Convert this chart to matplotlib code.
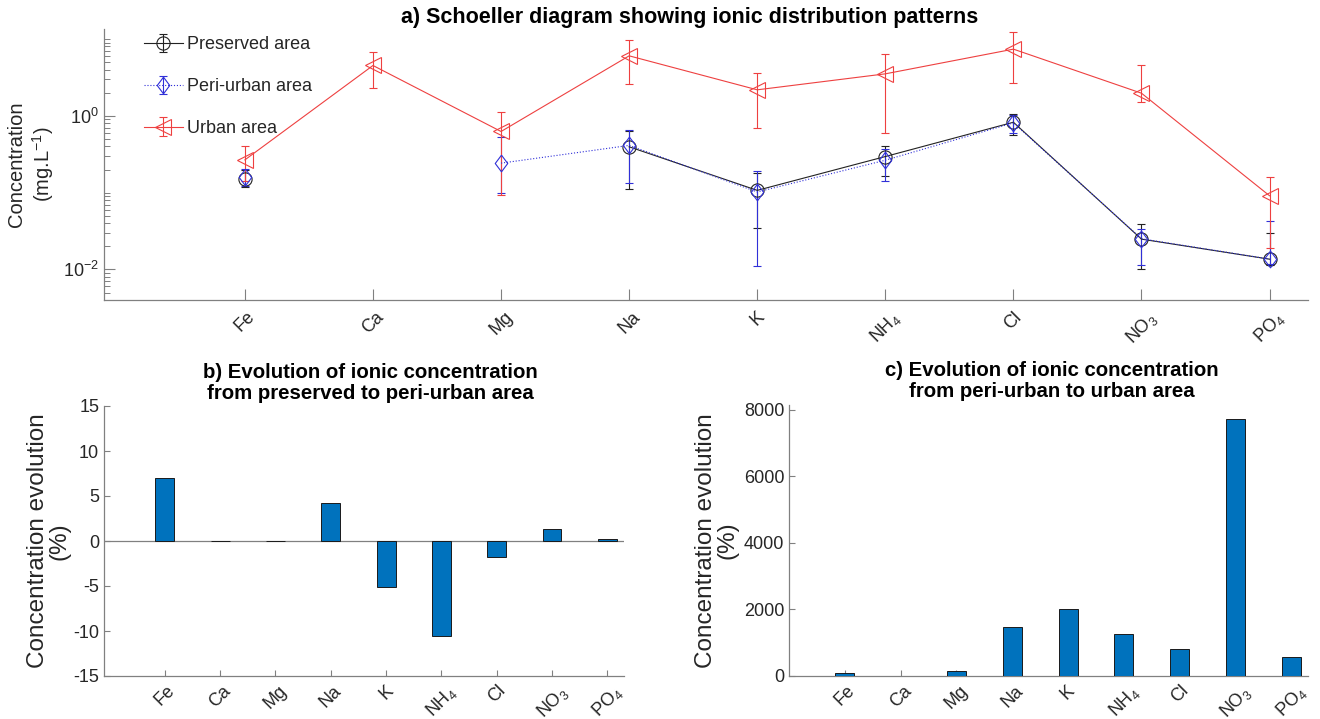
import numpy as np
import matplotlib
matplotlib.use('Agg')
import matplotlib.pyplot as plt
from matplotlib.ticker import FixedLocator, LogLocator, NullFormatter, FixedFormatter

plt.rcParams['font.family'] = ['Liberation Sans', 'DejaVu Sans']
plt.rcParams['mathtext.fontset'] = 'custom'
plt.rcParams['mathtext.rm'] = 'Liberation Sans'
plt.rcParams['mathtext.it'] = 'Liberation Sans:italic'
plt.rcParams['mathtext.bf'] = 'Liberation Sans:bold'
plt.rcParams['axes.unicode_minus'] = False

# ---------------- data ----------------
ions = ['Fe', 'Ca', 'Mg', 'Na', 'K', 'NH$_4$', 'Cl', 'NO$_3$', 'PO$_4$']
nan = np.nan
preserved = [0.150, nan, nan, 0.395, 0.107, 0.295, 0.825, 0.0248, 0.0136]
preserved_lo = [0.118, nan, nan, 0.111, 0.035, 0.165, 0.57, 0.0102, 0.0115]
preserved_hi = [0.195, nan, nan, 0.64, 0.18, 0.40, 1.05, 0.039, 0.030]
peri = [0.160, nan, 0.242, 0.412, 0.102, 0.264, 0.81, 0.0251, 0.01364]
peri_lo = [0.122, nan, 0.10, 0.133, 0.011, 0.142, 0.60, 0.0114, 0.0118]
peri_hi = [0.205, nan, 0.528, 0.66, 0.192, 0.37, 1.03, 0.034, 0.043]
urban = [0.267, 4.52, 0.625, 6.04, 2.18, 3.52, 7.38, 1.97, 0.091]
urban_lo = [0.14, 2.27, 0.094, 2.59, 0.70, 0.59, 2.69, 1.5, 0.019]
urban_hi = [0.40, 6.87, 1.12, 9.8, 3.63, 6.4, 12.2, 4.52, 0.162]
evol_pres_peri = [7.0, 0, 0, 4.27, -5.16, -10.6, -1.81, 1.3, 0.26]
evol_peri_urban = [80, 0, 150, 1462, 2015, 1252, 821, 7729, 580]

W, H = 1320, 719
fig = plt.figure(figsize=(W / 100, H / 100), dpi=100)

SPINE = '#808080'
TXT = '#262626'
x = np.arange(1, len(ions) + 1)


def px_axes(l, t, r, b):
    return fig.add_axes([l / W, 1 - b / H, (r - l) / W, (b - t) / H])


def style(ax, ticklen):
    for s in ['top', 'right']:
        ax.spines[s].set_visible(False)
    for s in ['left', 'bottom']:
        ax.spines[s].set_color(SPINE)
        ax.spines[s].set_linewidth(0.9)
    ax.tick_params(direction='in', colors=SPINE, labelcolor=TXT, labelsize=13,
                   length=ticklen, width=0.8)


def yerr(v, lo, hi):
    v = np.array(v, float)
    return np.vstack([v - np.array(lo, float), np.array(hi, float) - v])


# ---------------- a) ----------------
ax = px_axes(104, 29, 1308, 300)
style(ax, 8)
ax.set_yscale('log')
kw = dict(capsize=3, elinewidth=0.8, capthick=0.8, lw=0.8)
c_black = '#222222'
c_blue = '#3030d8'
c_red = '#ee4040'
diamond = [(0, 1), (0.75, 0), (0, -1), (-0.75, 0), (0, 1)]
ax.errorbar(x, preserved, yerr=yerr(preserved, preserved_lo, preserved_hi), color=c_black,
            ecolor=c_black, marker='o', ms=9.5, mfc='none', mew=0.8, ls='-',
            label='Preserved area', **kw)
ax.errorbar(x, peri, yerr=yerr(peri, peri_lo, peri_hi), color=c_blue, ecolor=c_blue,
            marker=diamond, ms=12, mfc='none', mew=0.8, ls=':', label='Peri-urban area', **kw)
ax.errorbar(x, urban, yerr=yerr(urban, urban_lo, urban_hi), color=c_red, ecolor=c_red,
            marker='<', ms=11, mfc='none', mew=0.8, ls='-', label='Urban area', **kw)
ax.set_xlim(-0.1, 9.3)
ax.set_ylim(0.004, 13.5)
ax.yaxis.set_major_locator(FixedLocator([1e-2, 1e0]))
ax.yaxis.set_major_formatter(FixedFormatter(['$10^{-2}$', '$10^{0}$']))
ax.yaxis.set_minor_locator(LogLocator(base=10, subs=np.arange(1, 10), numticks=20))
ax.yaxis.set_minor_formatter(NullFormatter())
ax.tick_params(which='minor', direction='in', length=4, width=0.7, colors=SPINE)
ax.set_xticks(x)
ax.set_xticklabels(ions, rotation=45)
ax.tick_params(axis='x', pad=6)
ax.set_ylabel('Concentration\n(mg.L$^{-1}$)', fontsize=14.5, color=TXT)
ax.yaxis.set_label_coords(-0.04, 0.5)
ax.set_title('a) Schoeller diagram showing ionic distribution patterns', fontsize=15.5,
             fontweight='bold', color='black', pad=4, x=0.486)
leg = ax.legend(loc='upper left', bbox_to_anchor=(144 / W, 1 - 36 / H),
                bbox_transform=fig.transFigure, frameon=False, fontsize=13,
                labelspacing=1.38, handlelength=2.15, handletextpad=0.25, borderpad=0,
                borderaxespad=0)
for t in leg.get_texts():
    t.set_color(TXT)

# ---------------- b) ----------------
bar_c = '#0072bd'
axb = px_axes(104, 406, 624, 676)
style(axb, 4)
axb.bar(x, evol_pres_peri, width=0.34, color=bar_c, edgecolor='#1a1a1a', lw=0.7, zorder=3)
axb.axhline(0, color=SPINE, lw=0.9, zorder=2)
axb.set_xlim(-0.1, 9.3)
axb.set_ylim(-15, 15)
axb.set_yticks(np.arange(-15, 16, 5))
axb.set_xticks(x)
axb.set_xticklabels(ions, rotation=45)
axb.tick_params(axis='x', pad=4.5)
axb.set_ylabel('Concentration evolution\n(%)', fontsize=17.5, color=TXT, linespacing=1.0)
axb.yaxis.set_label_coords(-0.064, 0.5)
axb.set_title('b) Evolution of ionic concentration\nfrom preserved to peri-urban area',
              fontsize=14.7, fontweight='bold', color='black', pad=5, linespacing=1.12,
              x=0.512)

# ---------------- c) ----------------
axc = px_axes(789, 405, 1308, 676)
style(axc, 4)
axc.bar(x, evol_peri_urban, width=0.34, color=bar_c, edgecolor='#1a1a1a', lw=0.7, zorder=3)
axc.set_xlim(0.0, 9.3)
axc.set_ylim(0, 8150)
axc.set_yticks(np.arange(0, 8001, 2000))
axc.set_xticks(x)
axc.set_xticklabels(ions, rotation=45)
axc.tick_params(axis='x', pad=4.5)
axc.set_ylabel('Concentration evolution\n(%)', fontsize=17.5, color=TXT, linespacing=1.0)
axc.yaxis.set_label_coords(-0.097, 0.5)
axc.set_title('c) Evolution of ionic concentration\nfrom peri-urban to urban area',
              fontsize=14.7, fontweight='bold', color='black', pad=6, linespacing=1.12,
              x=0.507)

fig.savefig('out.png', dpi=100)
